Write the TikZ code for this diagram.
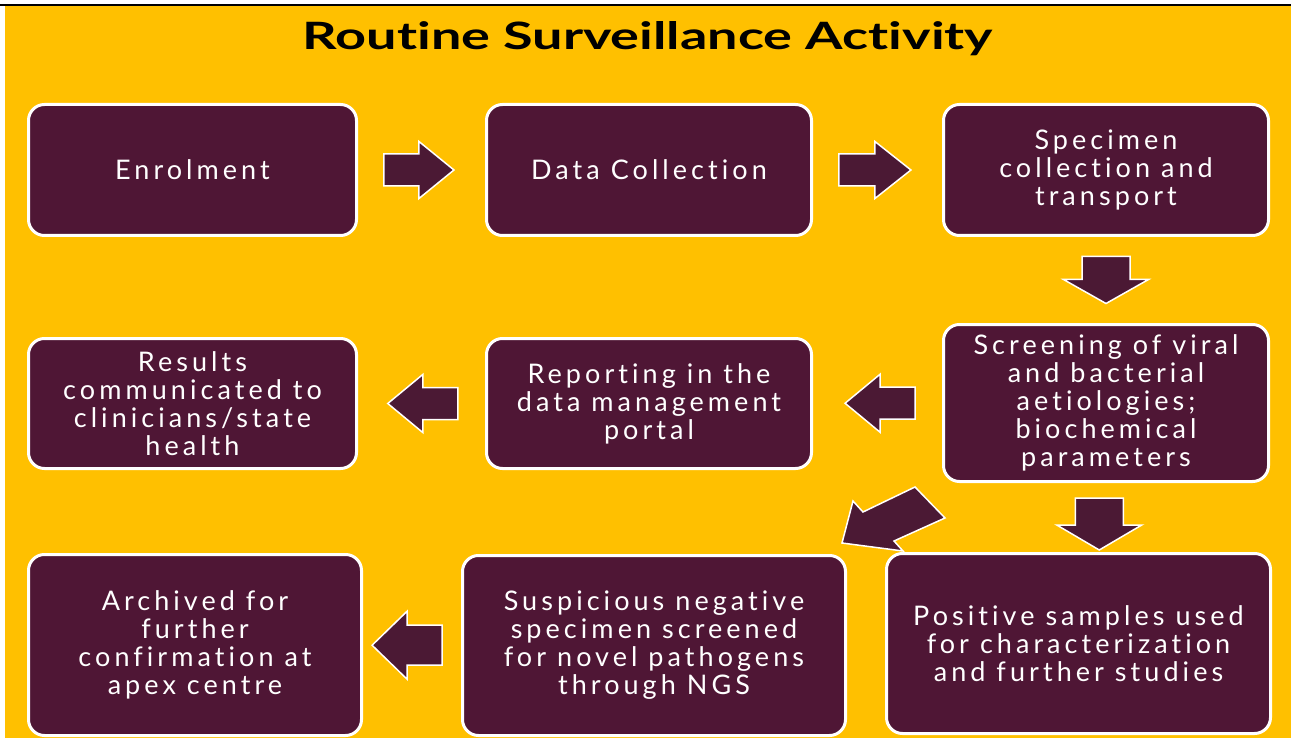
\documentclass[tikz,border=0pt]{standalone}
\usepackage{fontspec}
\setmainfont{Lato}[Ligatures=NoCommon]
\newfontfamily\bodyfont{Lato}[LetterSpace=15,Ligatures=NoCommon]
\usetikzlibrary{calc}
\definecolor{bg}{HTML}{FFC000}
\definecolor{boxcol}{HTML}{4F1635}
\definecolor{arrcol}{HTML}{4B1934}
\tikzset{
  pics/barrow/.style n args={4}{code={
    \draw[arrowfill] ({-#1/2},{-#2}) -- ({#1/2-#4},{-#2}) -- ({#1/2-#4},{-#3}) -- ({#1/2},0)
      -- ({#1/2-#4},{#3}) -- ({#1/2-#4},{#2}) -- ({-#1/2},{#2}) -- cycle;
  }}
}
\begin{document}
\begin{tikzpicture}[x=1pt,y=-1pt,
  box/.style={draw=white, line width=3pt, fill=boxcol, rounded corners=16pt,
    text=white, align=center, inner sep=0pt,
    font=\bodyfont\fontsize{27}{28}\selectfont},
  arrowfill/.style={fill=arrcol, draw=white, line width=1.5pt, line join=miter},
]
\useasboundingbox (0,0) rectangle (1291,738);
\fill[white] (0,0) rectangle (1291,738);
\fill[bg] (5,6) rectangle (1291,738);
\draw[black, line width=1.2pt] (0,5) -- (1291,5);

\node[inner sep=0pt] (title) at (648,39)
  {\resizebox{690pt}{28pt}{\bfseries Routine Surveillance Activity}};

\node[box, minimum width=328, minimum height=131] (enrol) at (192.5,170) {Enrolment};
\node[box, minimum width=325, minimum height=131] (data) at (649,170) {Data Collection};
\node[box, minimum width=325, minimum height=131] (spec) at (1106,170) {Specimen\\collection and\\transport};
\node[box, minimum width=328, minimum height=130] (res) at (192.5,403.5) {Results\\communicated to\\clinicians/state\\health};
\node[box, minimum width=325, minimum height=130] (rep) at (649,403.5) {Reporting in the\\data management\\portal};
\node[box, minimum width=325, minimum height=157] (scr) at (1106,403) {Screening of viral\\and bacterial\\aetiologies;\\biochemical\\parameters};
\node[box, minimum width=333, minimum height=181] (arch) at (195,645) {Archived for\\further\\confirmation at\\apex centre};
\node[box, minimum width=383, minimum height=180] (susp) at (654,645.5) {Suspicious negative\\specimen screened\\for novel pathogens\\through NGS};
\node[box, minimum width=384, minimum height=180] (pos) at (1078.5,643.5) {Positive samples used\\for characterization\\and further studies};

\pic at ($(enrol.east)!0.48!(data.west)$) {barrow={70}{16}{28.5}{35}};
\pic at ($(data.east)!0.48!(spec.west)$) {barrow={72}{16}{28.5}{36}};
\pic[rotate=-90] at ($(spec.south)!0.5!(scr.north)$) {barrow={47}{24}{42.5}{24}};
\pic[rotate=180] at ($(scr.west)!0.48!(rep.east)$) {barrow={70}{16}{29}{35}};
\pic[rotate=180] at ($(rep.west)!0.49!(res.east)$) {barrow={70}{16}{29}{35}};
\pic[rotate=-90] at ($($(scr.south)!0.5!(pos.north)$)+(7,6.5)$) {barrow={52}{24}{42.5}{25}};
\pic[rotate=180] at ($(susp.west)!0.55!(arch.east)$) {barrow={70}{20}{34}{35}};
\draw[arrowfill] (945,518) -- (894,541) -- (903,551) -- (842,543) -- (853,501) -- (863,512) -- (915,487) -- cycle;
\end{tikzpicture}
\end{document}
